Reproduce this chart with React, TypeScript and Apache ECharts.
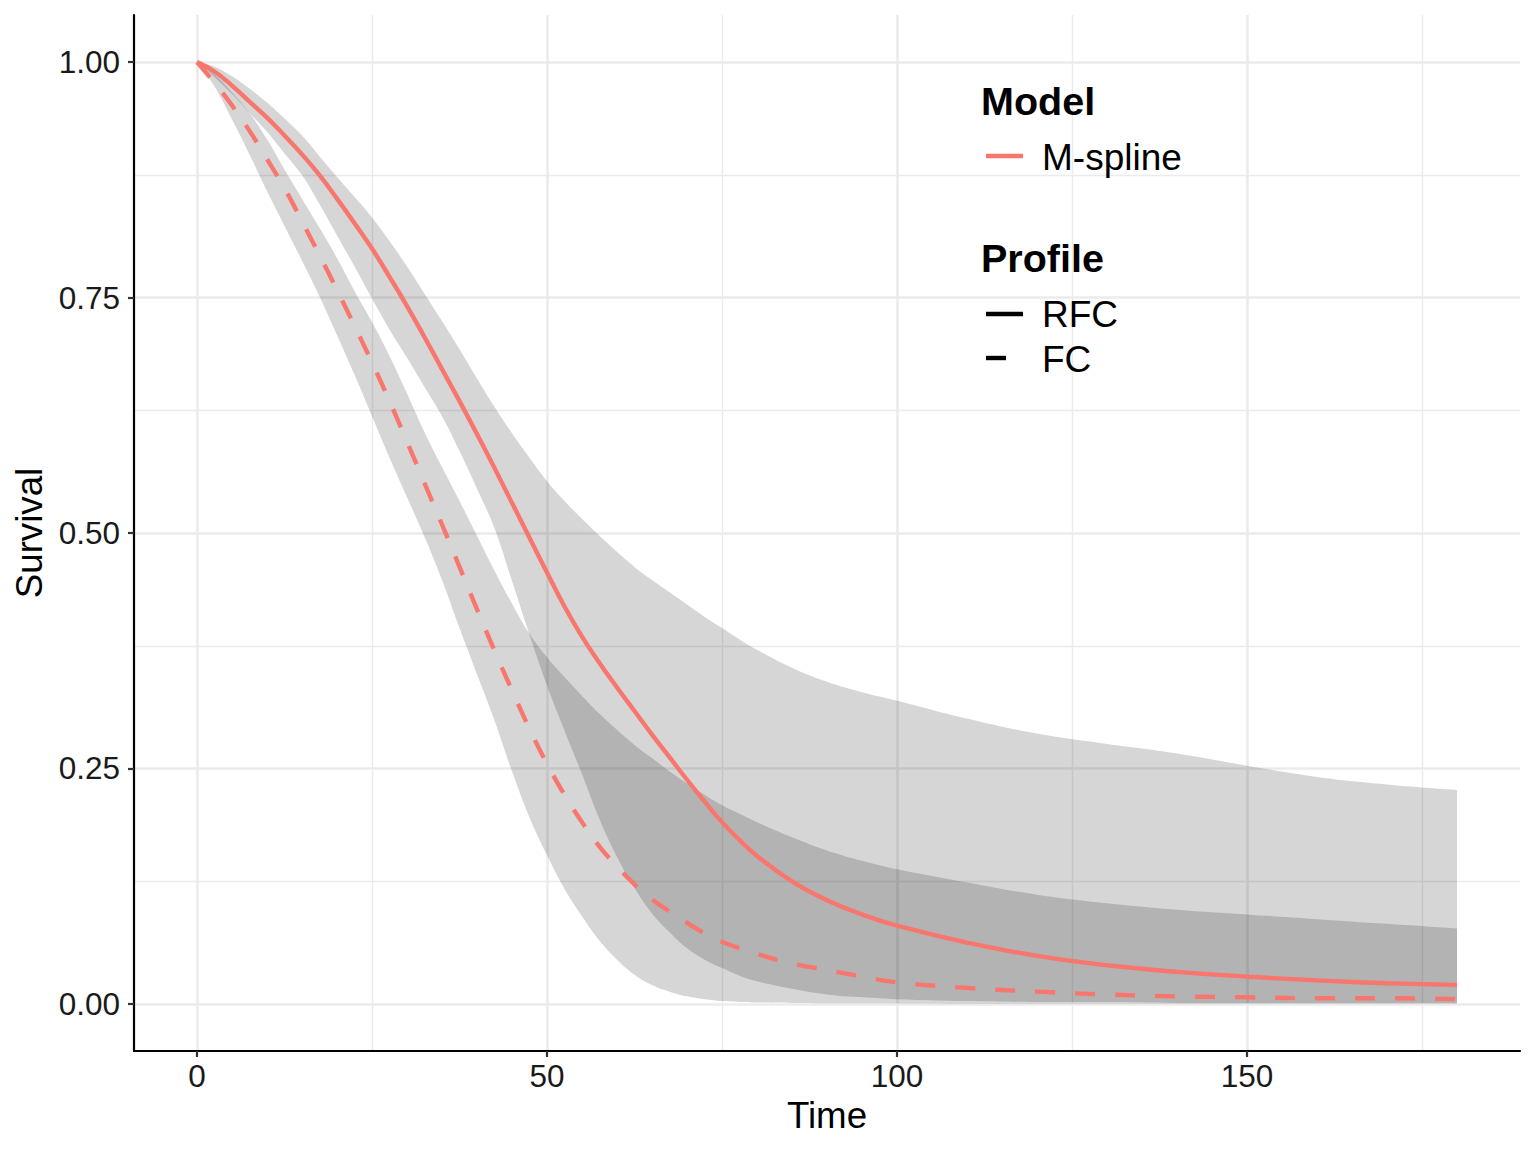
import React, { useEffect, useRef } from "react";
import * as echarts from "echarts";

// ---- Data ----
const time = [0, 2.5, 5, 7.5, 10, 12.5, 15, 17.5, 20, 22.5, 25, 27.5, 30, 32.5, 35, 37.5, 40, 42.5, 45, 47.5, 50, 52.5, 55, 57.5, 60, 62.5, 65, 67.5, 70, 72.5, 75, 77.5, 80, 85, 90, 95, 100, 110, 120, 130, 140, 150, 160, 170, 180];

// M-spline, profile RFC (solid)
const rfcMean = [1.0, 0.99, 0.975, 0.958, 0.941, 0.922, 0.902, 0.88, 0.855, 0.829, 0.802, 0.772, 0.741, 0.708, 0.674, 0.64, 0.605, 0.569, 0.532, 0.495, 0.458, 0.422, 0.39, 0.362, 0.336, 0.311, 0.286, 0.262, 0.238, 0.215, 0.193, 0.174, 0.157, 0.13, 0.11, 0.095, 0.083, 0.065, 0.051, 0.041, 0.034, 0.029, 0.025, 0.022, 0.02];
const rfcLower = [1.0, 0.984, 0.966, 0.946, 0.926, 0.903, 0.88, 0.849, 0.816, 0.783, 0.749, 0.716, 0.686, 0.655, 0.624, 0.587, 0.547, 0.505, 0.449, 0.392, 0.338, 0.29, 0.244, 0.196, 0.156, 0.123, 0.096, 0.076, 0.059, 0.047, 0.038, 0.03, 0.024, 0.016, 0.01, 0.007, 0.005, 0.003, 0.002, 0.002, 0.001, 0.001, 0.001, 0.001, 0.001];
const rfcUpper = [1.0, 0.995, 0.985, 0.972, 0.957, 0.94, 0.922, 0.9, 0.878, 0.857, 0.835, 0.81, 0.783, 0.754, 0.725, 0.695, 0.664, 0.634, 0.606, 0.58, 0.555, 0.534, 0.515, 0.497, 0.48, 0.464, 0.45, 0.437, 0.424, 0.411, 0.399, 0.387, 0.376, 0.357, 0.342, 0.331, 0.322, 0.303, 0.287, 0.276, 0.266, 0.253, 0.241, 0.233, 0.227];

// M-spline, profile FC (dashed)
const fcMean = [1.0, 0.978, 0.954, 0.927, 0.897, 0.866, 0.831, 0.795, 0.758, 0.72, 0.681, 0.64, 0.597, 0.553, 0.509, 0.464, 0.419, 0.375, 0.333, 0.292, 0.255, 0.222, 0.193, 0.167, 0.146, 0.127, 0.111, 0.098, 0.086, 0.075, 0.066, 0.059, 0.053, 0.043, 0.036, 0.029, 0.023, 0.017, 0.013, 0.01, 0.008, 0.007, 0.006, 0.006, 0.005];
const fcLower = [1.0, 0.974, 0.939, 0.902, 0.863, 0.826, 0.789, 0.751, 0.71, 0.668, 0.624, 0.58, 0.538, 0.496, 0.45, 0.399, 0.35, 0.301, 0.247, 0.198, 0.158, 0.122, 0.093, 0.067, 0.047, 0.031, 0.02, 0.013, 0.008, 0.005, 0.003, 0.002, 0.0015, 0.001, 0.0008, 0.0006, 0.0005, 0.0003, 0.0002, 0.0001, 0.0001, 0.0001, 0.0001, 0.0001, 0.0001];
const fcUpper = [1.0, 0.987, 0.968, 0.946, 0.918, 0.886, 0.855, 0.824, 0.792, 0.757, 0.724, 0.688, 0.648, 0.607, 0.57, 0.534, 0.497, 0.46, 0.425, 0.393, 0.368, 0.347, 0.327, 0.308, 0.291, 0.275, 0.261, 0.247, 0.234, 0.222, 0.211, 0.202, 0.193, 0.177, 0.163, 0.152, 0.143, 0.129, 0.116, 0.107, 0.1, 0.095, 0.09, 0.085, 0.08];

// Axis ticks / gridlines
const xTicks = [0, 50, 100, 150];
const xMinor = [25, 75, 125, 175];
const yTicks = [0, 0.25, 0.5, 0.75, 1.0];
const yMinor = [0.125, 0.375, 0.625, 0.875];

const modelTitle = "Model";
const modelLabels = ["M-spline"];
const profileTitle = "Profile";
const profileLabels = ["RFC", "FC"];

const RED = "#F8766D";
const FONT = '"Liberation Sans", Arial, Helvetica, sans-serif';

const pairs = (ys: number[]) => time.map((t, i) => [t, ys[i]]);

// one translucent ribbon per profile, drawn as a single smoothed polygon through the axes' scales
const bandSeries = (name: string, lo: number[], hi: number[]) => ({
  type: "custom",
  name,
  silent: true,
  clip: true,
  z: 2,
  encode: { x: 0, y: [1, 2] },
  data: time.map((t, i) => [t, lo[i], hi[i]]),
  renderItem: (params: any, api: any) => {
    if (params.dataIndex !== 0) return null;
    const n = time.length;
    const pts: number[][] = [];
    for (let i = 0; i < n; i++) pts.push(api.coord([time[i], hi[i]]));
    // duplicate the corners at the right end so the vertical edge stays straight
    pts.push(api.coord([time[n - 1], hi[n - 1]]));
    pts.push(api.coord([time[n - 1], lo[n - 1]]));
    for (let i = n - 1; i >= 0; i--) pts.push(api.coord([time[i], lo[i]]));
    return {
      type: "polygon",
      shape: { points: pts, smooth: 0.4 },
      style: { fill: "rgba(0,0,0,0.16)", stroke: null },
    };
  },
});

export default function App() {
  const ref = useRef<HTMLDivElement | null>(null);

  useEffect(() => {
    if (!ref.current) return;
    const chart = echarts.init(ref.current, null, { renderer: "svg" });

    const gridLines = [
      ...xTicks.map((v) => ({ xAxis: v, lineStyle: { width: 2.6, color: "#ebebeb", type: "solid" } })),
      ...xMinor.map((v) => ({ xAxis: v, lineStyle: { width: 1.4, color: "#ebebeb", type: "solid" } })),
      ...yTicks.map((v) => ({ yAxis: v, lineStyle: { width: 2.6, color: "#ebebeb", type: "solid" } })),
      ...yMinor.map((v) => ({ yAxis: v, lineStyle: { width: 1.4, color: "#ebebeb", type: "solid" } })),
    ];

    const meanLine = (name: string, ys: number[], type: any) => ({
      type: "line",
      name,
      data: pairs(ys),
      symbol: "none",
      showSymbol: false,
      smooth: 0.45,
      silent: true,
      z: 3,
      lineStyle: { color: RED, width: 4.4, type, cap: "butt" },
    });

    const option: any = {
      animation: false,
      textStyle: { fontFamily: FONT },
      grid: { left: 134, top: 15, width: 1386, height: 1036, outerBoundsMode: "none" },
      xAxis: {
        type: "value",
        min: -9,
        max: 189,
        name: "Time",
        nameLocation: "middle",
        nameGap: 63,
        nameTextStyle: { fontSize: 36.7, color: "#000", fontFamily: FONT, verticalAlign: "middle" },
        axisLine: { show: true, onZero: false, lineStyle: { color: "#000", width: 2.2 } },
        axisTick: { show: true, length: 6, customValues: xTicks, lineStyle: { color: "#333", width: 2.2 } },
        axisLabel: { show: true, customValues: xTicks, fontSize: 31.5, color: "#1a1a1a", margin: 9, fontFamily: FONT },
        splitLine: { show: false },
      },
      yAxis: {
        type: "value",
        min: -0.05,
        max: 1.05,
        name: "Survival",
        nameLocation: "middle",
        nameGap: 105,
        nameRotate: 90,
        nameTextStyle: { fontSize: 36.7, color: "#000", fontFamily: FONT, verticalAlign: "middle" },
        axisLine: { show: true, onZero: false, lineStyle: { color: "#000", width: 2.2 } },
        axisTick: { show: true, length: 6, customValues: yTicks, lineStyle: { color: "#333", width: 2.2 } },
        axisLabel: {
          show: true,
          customValues: yTicks,
          fontSize: 31.5,
          color: "#1a1a1a",
          margin: 14,
          fontFamily: FONT,
          formatter: (v: number) => v.toFixed(2),
        },
        splitLine: { show: false },
      },
      series: [
        {
          type: "line",
          data: [],
          silent: true,
          z: 0,
          markLine: {
            silent: true,
            z: 0,
            animation: false,
            symbol: ["none", "none"],
            label: { show: false },
            emphasis: { disabled: true },
            data: gridLines,
          },
        },
        bandSeries("RFC band", rfcLower, rfcUpper),
        bandSeries("FC band", fcLower, fcUpper),
        meanLine("RFC", rfcMean, "solid"),
        meanLine("FC", fcMean, [20, 20]),
      ],
      graphic: [
        {
          type: "text",
          x: 981,
          y: 101,
          z: 100,
          style: { text: modelTitle, fontSize: 39.5, fontWeight: "bold", fontFamily: FONT, fill: "#000", verticalAlign: "middle", align: "left" },
        },
        { type: "line", z: 100, shape: { x1: 986, y1: 156, x2: 1023, y2: 156 }, style: { stroke: RED, lineWidth: 4.4 } },
        {
          type: "text",
          x: 1042,
          y: 157,
          z: 100,
          style: { text: modelLabels[0], fontSize: 37, fontFamily: FONT, fill: "#000", verticalAlign: "middle", align: "left" },
        },
        {
          type: "text",
          x: 981,
          y: 258,
          z: 100,
          style: { text: profileTitle, fontSize: 39.5, fontWeight: "bold", fontFamily: FONT, fill: "#000", verticalAlign: "middle", align: "left" },
        },
        { type: "line", z: 100, shape: { x1: 986, y1: 314, x2: 1023, y2: 314 }, style: { stroke: "#000", lineWidth: 4.4 } },
        {
          type: "text",
          x: 1042,
          y: 314,
          z: 100,
          style: { text: profileLabels[0], fontSize: 37, fontFamily: FONT, fill: "#000", verticalAlign: "middle", align: "left" },
        },
        { type: "line", z: 100, shape: { x1: 986, y1: 358, x2: 1023, y2: 358 }, style: { stroke: "#000", lineWidth: 4.4, lineDash: [20, 20] } },
        {
          type: "text",
          x: 1042,
          y: 359,
          z: 100,
          style: { text: profileLabels[1], fontSize: 37, fontFamily: FONT, fill: "#000", verticalAlign: "middle", align: "left" },
        },
      ],
    };

    chart.setOption(option);
    return () => chart.dispose();
  }, []);

  return (
    <div
      ref={ref}
      style={{ position: "fixed", left: 0, top: 0, width: 1536, height: 1152, background: "#fff" }}
    />
  );
}
